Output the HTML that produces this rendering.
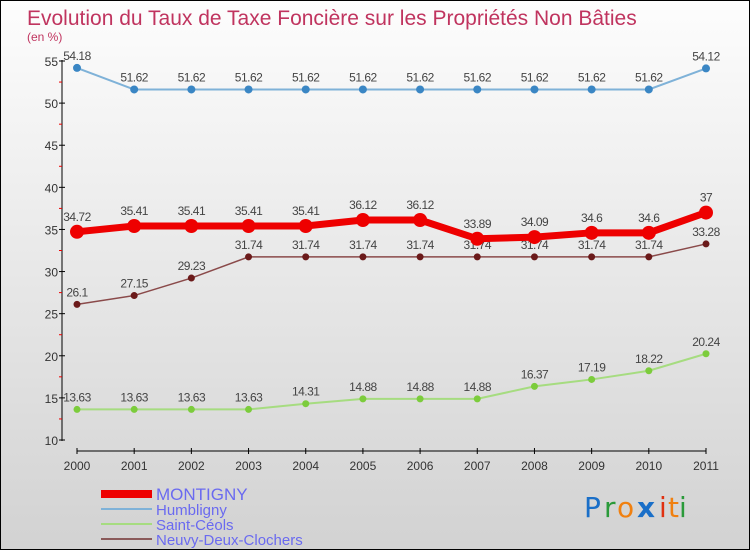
<!DOCTYPE html>
<html><head><meta charset="utf-8"><style>
html,body{margin:0;padding:0}
body{width:750px;height:550px;overflow:hidden;font-family:"Liberation Sans",sans-serif}
#wrap{position:relative;width:748px;height:548px;border:1px solid #000;background:linear-gradient(#fdfdfd,#d2d2d2)}
svg{position:absolute;left:0;top:0}
</style></head><body>
<div id="wrap">
<svg id="chart" width="750" height="550">
<text x="26" y="24" font-size="21" fill="#c0345f">Evolution du Taux de Taxe Foncière sur les Propriétés Non Bâties</text>
<text x="26" y="40" font-size="12" fill="#c0345f">(en %)</text>
<g id="axes"></g><g id="series"></g><g id="legend"></g>
<g font-size="28" font-family="DejaVu Sans, sans-serif">
<text x="583" y="516" fill="#1a6fc8">P</text><text x="603" y="516" fill="#2a9a3a">r</text><text x="616" y="516" fill="#f08010">o</text><text x="636" y="516" fill="#1a6fc8" font-weight="bold">x</text><text x="658" y="516" fill="#e03010">i</text><text x="667" y="516" fill="#f08010">t</text><text x="678" y="516" fill="#2a9a3a">i</text>
</g>
</svg></div>
<script>
const years=["2000","2001","2002","2003","2004","2005","2006","2007","2008","2009","2010","2011"];
const yTicks=[10,15,20,25,30,35,40,45,50,55];
const montigny=[34.72,35.41,35.41,35.41,35.41,36.12,36.12,33.89,34.09,34.6,34.6,37];
const humbligny=[54.18,51.62,51.62,51.62,51.62,51.62,51.62,51.62,51.62,51.62,51.62,54.12];
const saintCeols=[13.63,13.63,13.63,13.63,14.31,14.88,14.88,14.88,16.37,17.19,18.22,20.24];
const neuvy=[26.1,27.15,29.23,31.74,31.74,31.74,31.74,31.74,31.74,31.74,31.74,33.28];
const seriesNames=["MONTIGNY","Humbligny","Saint-Céols","Neuvy-Deux-Clochers"];
const NS="http://www.w3.org/2000/svg";
const x=i=>76+i*(629/(years.length-1));
const y=v=>439-(v-10)*(379/45);
function mk(t,a,p){const e=document.createElementNS(NS,t);for(const k in a)e.setAttribute(k,a[k]);p.appendChild(e);return e;}
const axes=document.getElementById('axes');
let l=mk('line',{x1:61,y1:59,x2:61,y2:440,stroke:'#000'},axes);


yTicks.forEach((v,i)=>{
 mk('line',{x1:58,y1:y(v),x2:64,y2:y(v),stroke:'#000'},axes);
 if(i<yTicks.length-1)mk('line',{x1:58,y1:y(v+2.5),x2:61,y2:y(v+2.5),stroke:'#e00'},axes);
 const t=mk('text',{x:57,y:y(v)+5,'font-size':12,'text-anchor':'end',fill:'#333'},axes);t.textContent=v;
 
 
});
l=mk('line',{x1:76,y1:450,x2:705,y2:450,stroke:'#000'},axes);


years.forEach((yr,i)=>{
 mk('line',{x1:x(i),y1:447,x2:x(i),y2:453,stroke:'#000'},axes);
 const t=mk('text',{x:x(i),y:469,'font-size':12,'text-anchor':'middle',fill:'#333'},axes);t.textContent=yr;
 
 
});
const ser=document.getElementById('series');
function draw(data,col,w,r,dot,name,labelOff){
 const g=mk('g',{},ser);
 
 
 mk('polyline',{points:data.map((v,i)=>x(i)+','+y(v)).join(' '),fill:'none',stroke:col,'stroke-width':w},g);
 data.forEach((v,i)=>{
  const c=mk('circle',{cx:x(i),cy:y(v),r:r,fill:dot},g);
  
  
  const t=mk('text',{x:x(i),y:y(v)-labelOff,'font-size':12,'text-anchor':'middle',fill:'#444','letter-spacing':'-0.5'},g);t.textContent=v;
  
  
 });
}
draw(humbligny,'#7fb2d8',2,4,'#3a86c4','humbligny-series',8);
draw(neuvy,'#8a4a4a',1.5,3.5,'#6b1a1a','neuvy-series',8);
draw(saintCeols,'#a6dc80',2,3.5,'#7ccc3c','saint-ceols-series',8);
draw(montigny,'#ee0000',7,7,'#ee0000','montigny-series',11);
const lg=document.getElementById('legend');
const lc=[['#ee0000',8],['#7fb2d8',2],['#a6dc80',2],['#8a5a5a',2]];
seriesNames.forEach((n,i)=>{
 const g=mk('g',{},lg);
 
 
 const yy=493+i*15;
 mk('line',{x1:100,y1:yy,x2:151,y2:yy,stroke:lc[i][0],'stroke-width':lc[i][1]},g);
 const t=mk('text',{x:155,y:yy+6,'font-size':i==0?17:15,fill:'#6a6af0'},g);t.textContent=n;
});
</script>
</body></html>
